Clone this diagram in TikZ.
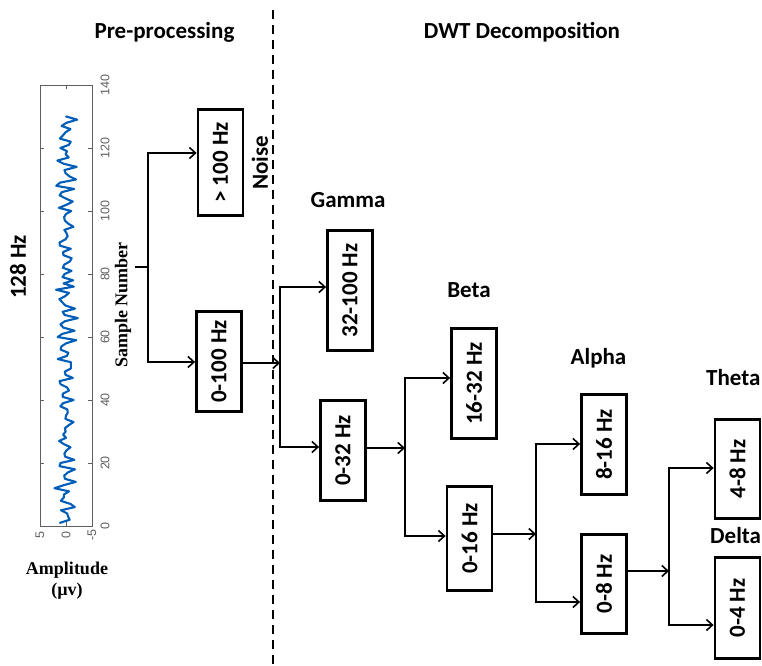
\documentclass[tikz,border=0pt]{standalone}
\usepackage{fontspec}
\setmainfont{Carlito}
\newfontfamily\serifbf{Liberation Serif}
\newfontfamily\arialf{Liberation Sans}
\usetikzlibrary{arrows.meta}
\definecolor{sigblue}{RGB}{0,94,184}
\definecolor{axgray}{RGB}{95,95,95}
\tikzset{
  fbox/.style={draw, line width=2.8pt, inner sep=0pt, font=\bfseries\fontsize{23}{23}\selectfont, minimum width=45pt},
  ttl/.style={inner sep=0pt, font=\bfseries\fontsize{23}{23}\selectfont},
  conn/.style={line width=1.6pt},
  arr/.style={line width=1.6pt, -{Straight Barb[length=6pt,width=11pt,line width=1.6pt]}},
  axlab/.style={inner sep=0pt, font=\serifbf\bfseries\fontsize{18}{18}\selectfont},
  ticklab/.style={inner sep=0pt, text=axgray, font=\arialf\fontsize{12.5}{12.5}\selectfont},
  axline/.style={draw=axgray, line width=1pt},
  sepline/.style={line width=1.6pt, dash pattern=on 9pt off 6pt}
}
\begin{document}
\begin{tikzpicture}[x=1pt,y=-1pt]
\useasboundingbox (0,0) rectangle (762,665);
\clip (0,0) rectangle (762,665);

% separator and titles
\draw[sepline] (273,10) -- (273,665);
\node[ttl, anchor=base] (pre) at (164.5,38) {Pre-processing};
\node[ttl, anchor=base] (dwt) at (522,38) {DWT Decomposition};

% EEG plot
\draw[axline] (40,85) rectangle (92,526);
\foreach \k in {0,20,...,140}{
  \draw[axline] (40,{526-3.15*\k}) -- ++(4,0);
  \draw[axline] (92,{526-3.15*\k}) -- ++(-4,0);
  \node[ticklab, rotate=90] at (105,{526-3.15*\k}) {\k};
}
\draw[axline] (66,526) -- ++(0,-4);
\draw[axline] (66,85) -- ++(0,4);
\node[ticklab, rotate=90] (a5) at (40,535) {5};
\node[ticklab, rotate=90] (a0) at (66,535) {0};
\node[ticklab, rotate=90] (am5) at (92,535) {-5};
\draw[sigblue, line width=2.1pt, line join=round, line cap=round]
  plot[domain=1:130, samples=130]
  ({66 - 5.2*((1+0.35*sin(7*\x+30))*(1.0*sin(97*\x) + 0.55*sin(150*mod(\x,12)+40))
     + 0.4*sin(41*\x+10) + 0.35*sin(113*\x+70) + 0.3*sin(23*\x+200)
     + 1.3*max(0,1-((\x-75)/4)^2)*sin(165*mod(\x,24)))},
   {526 - 3.15*\x});
\node[axlab, rotate=90] (sn) at (123,305) {Sample Number};
\node[axlab, anchor=base] (amp) at (67,574) {Amplitude};
\node[axlab, anchor=base] (unit) at (67,595) {(µv)};
\node[ttl, rotate=90] (hz) at (18,267) {128 Hz};

% boxes
\node[fbox, minimum height=106pt] (b100) at (220.5,162.5) {\rotatebox{90}{> 100 Hz}};
\node[fbox, minimum height=100pt] (b0100) at (219,361.5) {\rotatebox{90}{0-100 Hz}};
\node[fbox, minimum height=120pt] (bg) at (350,290.5) {\rotatebox{90}{32-100 Hz}};
\node[fbox, minimum height=100pt] (b032) at (343,450.5) {\rotatebox{90}{0-32 Hz}};
\node[fbox, minimum height=110pt] (bb) at (474,383.5) {\rotatebox{90}{16-32 Hz}};
\node[fbox, minimum height=104pt] (b016) at (469.5,538.5) {\rotatebox{90}{0-16 Hz}};
\node[fbox, minimum height=100pt] (ba) at (604,444.5) {\rotatebox{90}{8-16 Hz}};
\node[fbox, minimum height=99pt] (b08) at (604,584) {\rotatebox{90}{0-8 Hz}};
\node[fbox, minimum height=99pt] (bt) at (737.5,469) {\rotatebox{90}{4-8 Hz}};
\node[fbox, minimum height=101pt] (bd) at (737.5,608) {\rotatebox{90}{0-4 Hz}};

% labels
\node[ttl, rotate=90] (noise) at (260,163) {Noise};
\node[ttl, anchor=base] (gam) at (348,207) {Gamma};
\node[ttl, anchor=base] (beta) at (469,297) {Beta};
\node[ttl, anchor=base] (alpha) at (598.5,364) {Alpha};
\node[ttl, anchor=base west] (theta) at (706,385) {Theta};
\node[ttl, anchor=base west] (delta) at (710,543) {Delta};

% junction coordinates
\coordinate (stub) at (135,267);
\coordinate (v1) at (148,267);
\coordinate (v1t) at (148,153);
\coordinate (v1b) at (148,362);
\coordinate (v2) at (280,363);
\coordinate (v2t) at (280,287);
\coordinate (v2b) at (280,447);
\coordinate (v3) at (405,448);
\coordinate (v3t) at (405,378);
\coordinate (v3b) at (405,536);
\coordinate (v4) at (536,534);
\coordinate (v4t) at (536,444);
\coordinate (v4b) at (536,602);
\coordinate (v5) at (669,571);
\coordinate (v5t) at (669,468);
\coordinate (v5b) at (669,625);

% connectors
\draw[conn] (stub) -- (v1);
\draw[arr] (v1) -- (v1t) -- (b100.west |- v1t);
\draw[arr] (v1) -- (v1b) -- (b0100.west |- v1b);

\draw[arr] (b0100.east |- v2) -- (v2);
\draw[arr] (v2) -- (v2t) -- (bg.west |- v2t);
\draw[arr] (v2) -- (v2b) -- (b032.west |- v2b);

\draw[arr] (b032.east |- v3) -- (v3);
\draw[arr] (v3) -- (v3t) -- (bb.west |- v3t);
\draw[arr] (v3) -- (v3b) -- (b016.west |- v3b);

\draw[arr] (b016.east |- v4) -- (v4);
\draw[arr] (v4) -- (v4t) -- (ba.west |- v4t);
\draw[arr] (v4) -- (v4b) -- (b08.west |- v4b);

\draw[arr] (b08.east |- v5) -- (v5);
\draw[arr] (v5) -- (v5t) -- (bt.west |- v5t);
\draw[arr] (v5) -- (v5b) -- (bd.west |- v5b);
\end{tikzpicture}
\end{document}
